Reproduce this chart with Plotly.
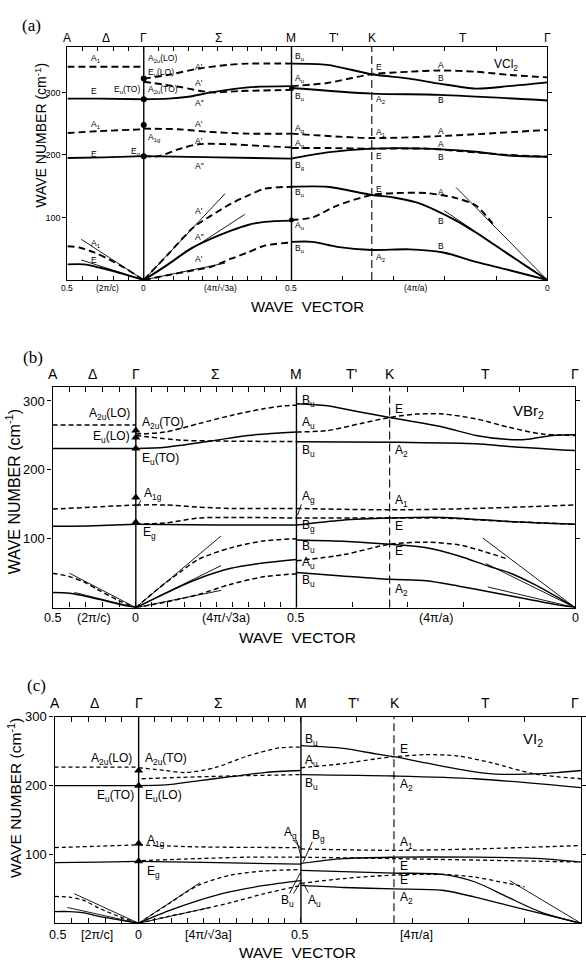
import plotly.graph_objects as go

FIG_W, FIG_H = 586, 963

# ====================== DATA ======================
# abscissa: path coordinate along A–Γ–M–K–Γ, ordinate: wave number (cm^-1)

# ---- (a) VCl2 ----
vcl2_nodes = [68, 145, 294, 375, 552]          # A, Γ, M, K, Γ
vcl2_solid = [
    ([68, 100, 145], [290, 290, 289]),
    ([68, 105, 145], [195, 196, 198]),
    ([68, 85, 100, 115, 130, 145], [25, 25, 20, 14, 7, 0]),
    ([145, 170, 190, 213, 250, 294], [289, 290, 293, 300, 308, 310]),
    ([145, 220, 294], [198, 196, 194]),
    ([145, 160, 175, 190, 213, 233, 250, 267, 294], [0, 15, 31, 48, 66, 79, 88, 93, 95]),
    ([294, 330, 375, 413, 443, 480, 513, 552], [346, 344, 329, 322, 314, 306, 310, 316]),
    ([294, 375, 443, 552], [307, 298, 296, 287]),
    ([294, 330, 375, 430, 480, 513, 552], [194, 204, 210, 210, 205, 199, 197]),
    ([294, 330, 375, 397, 420, 440, 460, 480, 497, 513, 530, 552], [149, 149, 136, 132, 124, 111, 95, 76, 58, 41, 23, 0]),
    ([294, 315, 340, 375, 413, 447, 480, 513, 552], [61, 61, 53, 48, 49, 44, 29, 16, 0]),
]
vcl2_dashed = [
    ([68, 145], [341, 341]),
    ([68, 100, 145], [235, 238, 241]),
    ([68, 80, 95, 110, 125, 145], [54, 52, 44, 33, 20, 0]),
    ([145, 170, 200, 230, 250, 294], [322, 328, 338, 344, 346, 346]),
    ([145, 180, 213, 240, 294], [317, 309, 300, 302, 304]),
    ([145, 180, 210, 250, 294], [242, 241, 237, 234, 234]),
    ([145, 160, 180, 200, 233, 267, 294], [198, 198, 209, 217, 217, 214, 212]),
    ([145, 170, 195, 213, 233, 250, 267, 294], [0, 42, 84, 103, 122, 135, 146, 149]),
    ([145, 170, 190, 213, 233, 250, 267, 294], [0, 8, 14, 21, 34, 44, 55, 60]),
    ([294, 330, 375, 413, 443, 480, 513, 552], [310, 315, 329, 333, 335, 333, 328, 324]),
    ([294, 375, 443, 552], [234, 227, 230, 240]),
    ([294, 330, 375, 430, 480, 513, 552], [211, 211, 210, 210, 204, 200, 197]),
    ([294, 315, 340, 375, 400, 430, 460, 480, 497], [96, 100, 119, 136, 139, 139, 131, 119, 90]),
]
vcl2_tangent = [
    ([82, 145], [65, 0]), ([82, 145], [32, 0]),
    ([145, 227], [0, 138]), ([145, 247], [0, 105]), ([145, 227], [0, 27]),
    ([460, 552], [148, 0]), ([448, 552], [111, 0]),
]
vcl2_gamma_modes = [322, 289, 248, 198]
vcl2_m_points = [306, 96]

# ---- (b) VBr2 ----
vbr2_nodes = [53, 137, 299, 393, 580]
vbr2_solid = [
    ([53, 137], [231, 231]),
    ([53, 95, 137], [118, 119, 121]),
    ([53, 70, 85, 100, 120, 137], [22, 21, 17, 12, 5, 0]),
    ([137, 167, 213, 250, 299], [231, 233, 242, 250, 255]),
    ([137, 220, 299], [121, 120, 120]),
    ([137, 160, 182, 200, 233, 267, 299], [0, 16, 31, 42, 57, 65, 70]),
    ([299, 330, 363, 393, 447, 480, 513, 530, 557, 580], [296, 293, 284, 276, 262, 250, 244, 244, 250, 251]),
    ([299, 400, 480, 513, 580], [241, 240, 238, 234, 228]),
    ([299, 345, 393, 447, 513, 580], [120, 127, 130, 131, 125, 121]),
    ([299, 350, 393, 430, 463, 493, 513, 540, 560, 580], [98, 96, 92, 87, 75, 60, 51, 33, 17, 0]),
    ([299, 345, 393, 430, 463, 497, 530, 555, 580], [51, 46, 41, 39, 31, 22, 13, 6, 0]),
]
vbr2_dashed = [
    ([53, 137], [265, 265]),
    ([53, 95, 137], [143, 146, 149]),
    ([53, 70, 85, 100, 120, 137], [50, 45, 37, 25, 10, 0]),
    ([137, 167, 200, 233, 267, 287, 299], [252, 255, 267, 279, 289, 293, 294]),
    ([137, 183, 213, 299], [250, 243, 242, 241]),
    ([137, 167, 200, 233, 299], [149, 149, 146, 144, 144]),
    ([137, 167, 200, 233, 299], [121, 123, 130, 131, 130]),
    ([137, 160, 182, 200, 233, 267, 299], [0, 28, 52, 70, 87, 97, 100]),
    ([137, 170, 200, 233, 267, 299], [0, 9, 19, 34, 45, 49]),
    ([299, 330, 363, 393, 420, 447, 480, 513, 547, 580], [255, 257, 267, 276, 281, 281, 274, 262, 252, 250]),
    ([299, 393, 480, 580], [144, 142, 144, 149]),
    ([299, 393, 447, 513, 580], [130, 130, 130, 125, 121]),
    ([299, 347, 393, 430, 463, 487, 513], [68, 77, 92, 95, 91, 82, 70]),
]
vbr2_tangent = [
    ([70, 137], [50, 0]), ([75, 137], [22, 0]),
    ([137, 223], [0, 104]), ([137, 223], [0, 61]), ([137, 223], [0, 25]),
    ([487, 580], [101, 0]), ([490, 580], [64, 0]), ([492, 580], [30, 0]),
]
vbr2_gamma_modes = [257, 247, 231, 160, 124]

# ---- (c) VI2 ----
vi2_nodes = [55, 140, 304, 398, 587]
vi2_solid = [
    ([55, 140], [200, 200]),
    ([55, 100, 140], [88, 89, 90]),
    ([55, 70, 85, 100, 120, 140], [17, 17, 15, 10, 5, 0]),
    ([140, 167, 200, 233, 267, 304], [200, 201, 207, 213, 219, 222]),
    ([140, 220, 304], [90, 88, 86]),
    ([140, 170, 200, 233, 267, 304], [0, 18, 33, 46, 55, 62]),
    ([304, 347, 380, 398, 430, 463, 497, 540, 563, 587], [258, 254, 246, 242, 233, 224, 217, 217, 219, 222]),
    ([304, 398, 480, 587], [216, 214, 210, 197]),
    ([304, 347, 398, 480, 547, 587], [87, 94, 96, 96, 94, 89]),
    ([304, 398, 447, 480, 513, 547, 587], [77, 73, 71, 60, 38, 16, 0]),
    ([304, 347, 398, 447, 480, 513, 547, 587], [55, 52, 50, 48, 38, 26, 14, 0]),
]
vi2_dashed = [
    ([55, 140], [227, 227]),
    ([55, 100, 140], [110, 112, 114]),
    ([55, 70, 85, 100, 120, 140], [39, 38, 33, 22, 10, 0]),
    ([140, 167, 187, 217, 250, 283, 304], [226, 222, 219, 226, 243, 255, 256]),
    ([143, 183, 233, 304], [210, 212, 214, 216]),
    ([140, 200, 304], [114, 111, 110]),
    ([143, 200, 250, 304], [91, 94, 96, 96]),
    ([140, 170, 200, 233, 267, 304], [0, 28, 55, 70, 76, 78]),
    ([140, 170, 200, 233, 267, 304], [0, 10, 19, 30, 43, 55]),
    ([304, 347, 380, 398, 430, 463, 497, 540, 587], [226, 232, 239, 242, 245, 243, 233, 217, 210]),
    ([304, 398, 480, 587], [108, 106, 108, 113]),
    ([304, 398, 513, 587], [96, 94, 91, 89]),
    ([304, 347, 398, 447, 480, 513, 530], [58, 65, 70, 71, 67, 58, 53]),
]
vi2_tangent = [
    ([75, 140], [43, 0]), ([68, 140], [23, 0]),
    ([140, 202], [0, 59]), ([140, 212], [0, 23]),
    ([515, 587], [62, 0]),
]
vi2_gamma_modes = [222, 200, 116, 90]

# symmetry-point labels (top) and wave-vector labels (bottom)
sym_labels = ["A", "Δ", "Γ", "Σ", "M", "T'", "K", "T", "Γ"]
q_labels_ab = ["0.5", "(2π/c)", "0", "(4π/√3a)", "0.5", "(4π/a)", "0"]
q_labels_c = ["0.5", "[2π/c]", "0", "[4π/√3a]", "0.5", "[4π/a]", ""]

# ====================== LAYOUT / STYLE ======================
SANS = "Liberation Sans, Arial, sans-serif"
SERIF = "Liberation Serif, Times New Roman, serif"


def P(px, py):
    return px / FIG_W, 1 - py / FIG_H


panels = [
    dict(nodes=vcl2_nodes, top=40, bottom=275, right=552, ymax=373,
         solid=vcl2_solid, dashed=vcl2_dashed, tang=vcl2_tangent, gam=vcl2_gamma_modes,
         marker="circle", msize=6, lw=1.9, dash="7px,4px", tick_font=9, ticklen=4,
         sym_y=31, sym_pos=[68, 107, 145, 220, 293, 337, 375, 467, 552], sym_size=12,
         q_y=283, q_pos=[68, 108, 145, 222, 293, 420, 552], q_labels=q_labels_ab, q_size=8.5),
    dict(nodes=vbr2_nodes, top=383, bottom=605, right=580, ymax=320,
         solid=vbr2_solid, dashed=vbr2_dashed, tang=vbr2_tangent, gam=vbr2_gamma_modes,
         marker="triangle-up", msize=8, lw=1.5, dash="5px,3px", tick_font=13, ticklen=5,
         sym_y=370, sym_pos=[53, 93, 137, 217, 299, 355, 393, 490, 580], sym_size=14,
         q_y=615, q_pos=[53, 95, 137, 228, 298, 440, 580], q_labels=q_labels_ab, q_size=12.5),
    dict(nodes=vi2_nodes, top=715, bottom=923, right=586, ymax=300,
         solid=vi2_solid, dashed=vi2_dashed, tang=vi2_tangent, gam=vi2_gamma_modes,
         marker="triangle-up", msize=8, lw=1.3, dash="4px,3px", tick_font=13, ticklen=5,
         sym_y=701, sym_pos=[55, 95, 140, 220, 304, 357, 398, 490, 580], sym_size=14,
         q_y=935, q_pos=[58, 98, 140, 210, 302, 420, 587], q_labels=q_labels_c, q_size=12.5),
]

fig = go.Figure()
shapes = []
annotations = []


def ann(text, px, py, size, xanchor="center", font=SANS, angle=0):
    x, y = P(px, py)
    annotations.append(dict(text=text, x=x, y=y, xref="paper", yref="paper", showarrow=False,
                            xanchor=xanchor, yanchor="middle", textangle=angle,
                            font=dict(family=font, size=size, color="black")))


for i, p in enumerate(panels):
    sfx = "" if i == 0 else str(i + 1)
    xa, ya = "x" + sfx, "y" + sfx
    nodes = p["nodes"]
    L = nodes[0]
    # minor ticks: 5 divisions on Δ, 10 on Σ, 5 from M to Γ
    ticks = [nodes[0] + (nodes[1] - nodes[0]) * k / 5 for k in range(6)]
    ticks += [nodes[1] + (nodes[2] - nodes[1]) * k / 10 for k in range(1, 11)]
    ticks += [nodes[2] + (nodes[4] - nodes[2]) * k / 5 for k in range(1, 6)]
    fig.update_layout(**{
        "xaxis" + sfx: dict(domain=[L / FIG_W, min(p["right"] / FIG_W, 1.0)],
                            range=[nodes[0], nodes[4]], anchor=ya,
                            showline=True, linecolor="black", linewidth=1.4, mirror="ticks",
                            ticks="inside", ticklen=p["ticklen"], tickwidth=1.2, tickcolor="black",
                            tickvals=ticks, showticklabels=False, showgrid=False, zeroline=False),
        "yaxis" + sfx: dict(domain=[1 - p["bottom"] / FIG_H, 1 - p["top"] / FIG_H],
                            range=[0, p["ymax"]], anchor=xa,
                            showline=True, linecolor="black", linewidth=1.4, mirror="ticks",
                            ticks="outside", ticklen=4, tickwidth=1.2, tickcolor="black",
                            tickvals=[100, 200, 300], ticktext=["100", "200", "300"],
                            tickfont=dict(family=SANS, size=p["tick_font"], color="black"),
                            showgrid=False, zeroline=False),
    })
    for q, w in p["solid"]:
        fig.add_trace(go.Scatter(x=q, y=w, mode="lines", xaxis=xa, yaxis=ya, showlegend=False,
                                 hoverinfo="skip",
                                 line=dict(color="black", width=p["lw"], shape="spline", smoothing=0.8)))
    for q, w in p["dashed"]:
        fig.add_trace(go.Scatter(x=q, y=w, mode="lines", xaxis=xa, yaxis=ya, showlegend=False,
                                 hoverinfo="skip",
                                 line=dict(color="black", width=p["lw"], dash=p["dash"],
                                           shape="spline", smoothing=0.8)))
    for q, w in p["tang"]:
        fig.add_trace(go.Scatter(x=q, y=w, mode="lines", xaxis=xa, yaxis=ya, showlegend=False,
                                 hoverinfo="skip", line=dict(color="black", width=0.9)))
    fig.add_trace(go.Scatter(x=[nodes[1]] * len(p["gam"]), y=p["gam"], mode="markers",
                             xaxis=xa, yaxis=ya, showlegend=False, hoverinfo="skip",
                             marker=dict(symbol=p["marker"], size=p["msize"], color="black")))
    if i == 0:
        fig.add_trace(go.Scatter(x=[nodes[2]] * len(vcl2_m_points), y=vcl2_m_points, mode="markers",
                                 xaxis=xa, yaxis=ya, showlegend=False, hoverinfo="skip",
                                 marker=dict(symbol="circle", size=5, color="black")))
    # vertical lines at Γ, M (solid) and K (dashed)
    for xv, dsh, wd in [(nodes[1], "solid", 1.4), (nodes[2], "solid", 1.4), (nodes[3], "8px,4px", 1.1)]:
        shapes.append(dict(type="line", xref=xa, yref=ya + " domain", x0=xv, x1=xv, y0=0, y1=1,
                           line=dict(color="black", width=wd, dash=dsh)))
    # top symmetry labels, bottom wave-vector labels
    for t, px in zip(sym_labels, p["sym_pos"]):
        ann(t, px, p["sym_y"], p["sym_size"])
    for t, px in zip(p["q_labels"], p["q_pos"]):
        if t:
            ann(t, px, p["q_y"], p["q_size"])

# ---- axis titles & panel letters ----
ann("WAVE NUMBER (cm<sup>-1</sup>)", 41, 129, 14, angle=-90)
ann("WAVE NUMBER (cm<sup>-1</sup>)", 14, 488, 16, angle=-90)
ann("WAVE NUMBER (cm<sup>-1</sup>)", 15, 797, 15.5, angle=-90)
ann("WAVE  VECTOR", 310, 302, 15)
ann("WAVE  VECTOR", 300, 635, 15.5)
ann("WAVE  VECTOR", 300, 952, 15.5)
ann("(a)", 32, 19, 17, font=SERIF)
ann("(b)", 33, 353, 17, font=SERIF)
ann("(c)", 37, 683, 17, font=SERIF)
ann("VCl<sub>2</sub>", 510, 58, 12)
ann("VBr<sub>2</sub>", 533, 407, 15)
ann("VI<sub>2</sub>", 538, 738, 15)

# ---- mode labels (a) ----
S = 8.5
for t, x, y in [("A<sub>1</sub>", 97, 52), ("E", 95, 85), ("A<sub>1</sub>", 97, 118), ("E", 95, 148),
                ("A<sub>1</sub>", 97, 238), ("E", 95, 255)]:
    ann(t, x, y, S)
for t, x, y, a in [("A<sub>2u</sub>(LO)", 147, 52, "left"), ("E<sub>u</sub>(LO)", 147, 66, "left"),
                   ("E<sub>u</sub>(TO)", 143, 83, "right"), ("A<sub>2u</sub>(TO)", 147, 83, "left"),
                   ("A<sub>1g</sub>", 147, 131, "left"), ("E<sub>g</sub>", 143, 146, "right")]:
    ann(t, x, y, S, xanchor=a)
for t, y in [("A'", 60), ("A'", 77), ("A″", 97), ("A'", 118), ("A'", 135), ("A″", 160),
             ("A'", 205), ("A″", 232), ("A'", 254)]:
    ann(t, 201, y, S)
for t, y in [("B<sub>u</sub>", 50), ("A<sub>u</sub>", 72), ("B<sub>u</sub>", 90), ("A<sub>g</sub>", 122),
             ("A<sub>g</sub>", 137), ("B<sub>g</sub>", 160), ("B<sub>u</sub>", 187), ("A<sub>u</sub>", 220),
             ("B<sub>u</sub>", 243)]:
    ann(t, 296, y, S, xanchor="left")
for t, y in [("E", 60), ("A<sub>2</sub>", 93), ("A<sub>1</sub>", 126), ("E", 150), ("E", 183),
             ("A<sub>2</sub>", 252)]:
    ann(t, 377, y, S, xanchor="left")
for t, y in [("A", 58), ("B", 72), ("B", 94), ("A", 125), ("A", 138), ("B", 151), ("A", 186),
             ("B", 216), ("B", 241)]:
    ann(t, 445, y, S)

# ---- mode labels (b) ----
S = 12
for t, x, y, a in [("A<sub>2u</sub>(LO)", 133, 410, "right"), ("A<sub>2u</sub>(TO)", 141, 419, "left"),
                   ("E<sub>u</sub>(LO)", 133, 433, "right"), ("E<sub>u</sub>(TO)", 141, 455, "left"),
                   ("A<sub>1g</sub>", 143, 491, "left"), ("E<sub>g</sub>", 142, 530, "left")]:
    ann(t, x, y, S, xanchor=a)
for t, y in [("B<sub>u</sub>", 397), ("A<sub>u</sub>", 419), ("B<sub>u</sub>", 447), ("A<sub>g</sub>", 494),
             ("B<sub>g</sub>", 523), ("B<sub>u</sub>", 544), ("A<sub>u</sub>", 560), ("B<sub>u</sub>", 578)]:
    ann(t, 303, y, S, xanchor="left")
for t, y in [("E", 405), ("A<sub>2</sub>", 447), ("A<sub>1</sub>", 498), ("E", 523), ("E", 548),
             ("A<sub>2</sub>", 587)]:
    ann(t, 396, y, S, xanchor="left")

# ---- mode labels (c) ----
for t, x, y, a in [("A<sub>2u</sub>(LO)", 135, 758, "right"), ("A<sub>2u</sub>(TO)", 144, 758, "left"),
                   ("E<sub>u</sub>(TO)", 137, 795, "right"), ("E<sub>u</sub>(LO)", 144, 795, "left"),
                   ("A<sub>1g</sub>", 146, 840, "left"), ("E<sub>g</sub>", 146, 871, "left")]:
    ann(t, x, y, S, xanchor=a)
for t, y in [("B<sub>u</sub>", 738), ("A<sub>u</sub>", 760), ("B<sub>u</sub>", 783)]:
    ann(t, 306, y, S, xanchor="left")
for t, x, y in [("A<sub>g</sub>", 293, 832), ("B<sub>g</sub>", 321, 835), ("B<sub>u</sub>", 290, 901),
                ("A<sub>u</sub>", 317, 901)]:
    ann(t, x, y, S)
for t, y in [("E", 747), ("A<sub>2</sub>", 784), ("A<sub>1</sub>", 842), ("E", 865), ("E", 879),
             ("A<sub>2</sub>", 898)]:
    ann(t, 401, y, S, xanchor="left")

# leader lines
for (x0, y0, x1, y1) in [(296, 839, 304, 848), (299, 839, 304, 857), (315, 841, 306, 861),
                         (292, 893, 303, 872), (296, 893, 304, 880), (311, 892, 306, 883),
                         (142, 497, 139, 503), (304, 501, 300, 512)]:
    ax0, ay0 = P(x0, y0)
    ax1, ay1 = P(x1, y1)
    shapes.append(dict(type="line", xref="paper", yref="paper", x0=ax0, y0=ay0, x1=ax1, y1=ay1,
                       line=dict(color="black", width=0.9)))

fig.update_layout(width=FIG_W, height=FIG_H, margin=dict(l=0, r=0, t=0, b=0),
                  paper_bgcolor="white", plot_bgcolor="white",
                  shapes=shapes, annotations=annotations, showlegend=False)

fig.write_html("out.html")
